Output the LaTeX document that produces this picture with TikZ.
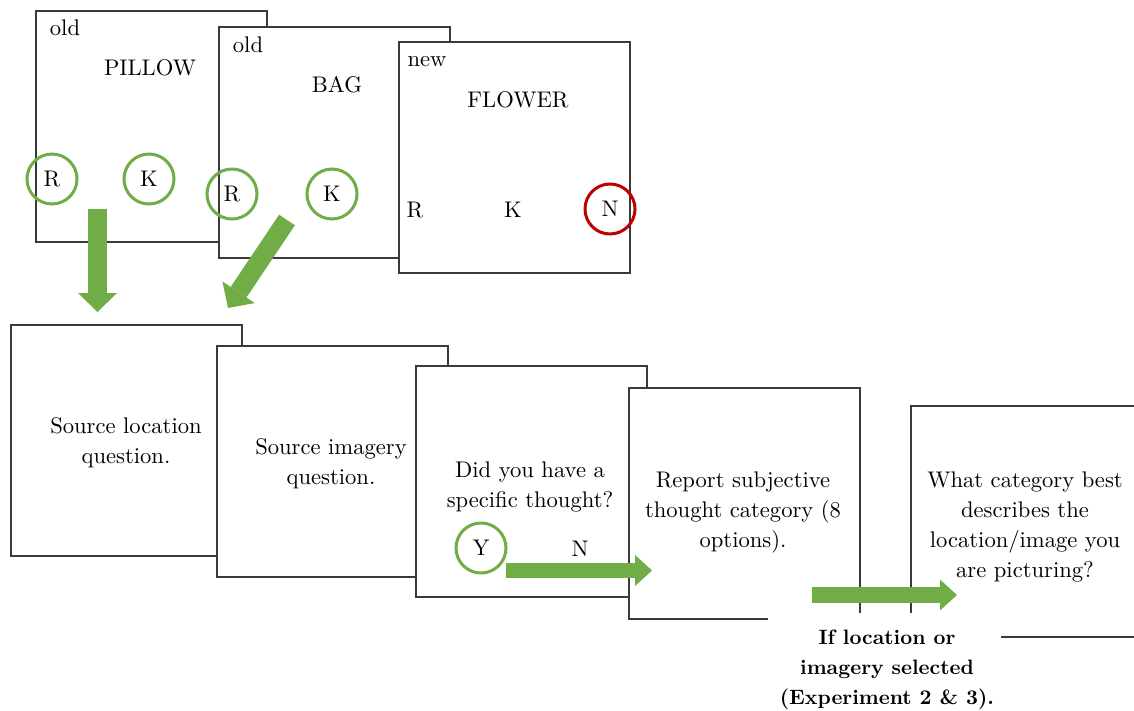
\documentclass[tikz,border=0pt]{standalone}
\usepackage{fontspec}
\setmainfont{lmroman10-regular.otf}[BoldFont=lmroman10-bold.otf]
\usetikzlibrary{arrows.meta}
\definecolor{cardline}{HTML}{3A3A3A}
\definecolor{okgreen}{HTML}{70AD47}
\definecolor{nored}{HTML}{C00000}
\tikzset{
  card/.style={draw=cardline, line width=1.8pt, fill=white, anchor=north west,
    minimum width=231pt, minimum height=231pt, inner sep=0pt},
  txt/.style={font=\rmfamily\fontsize{22.6}{30}\selectfont, inner sep=0pt, align=center},
  note/.style={font=\rmfamily\fontsize{20.8}{30}\selectfont\bfseries, inner sep=0pt, align=center},
  pick/.style={circle, draw=okgreen, line width=3pt, minimum size=50pt, inner sep=0pt},
  nopick/.style={pick, draw=nored},
  flowbig/.style={draw=okgreen, line width=19pt,
    -{Triangle[width=39pt, length=19pt, line width=0pt]}},
  flowsmall/.style={draw=okgreen, line width=15.5pt,
    -{Triangle[width=31pt, length=17pt, line width=0pt]}},
}
\begin{document}
\begin{tikzpicture}[x=1pt, y=-1pt]
\useasboundingbox (0,0) rectangle (1134,710);
\clip (0,0) rectangle (1134,710);

% ---- recognition trials (top row) ----
\node[card] (t1) at (35,10) {};
\node[txt] (t1o) at (65,28) {old};
\node[txt] (t1w) at (150,68) {PILLOW};
\node[pick, txt] (t1r) at (52,179) {R};
\node[pick, txt] (t1k) at (149,179) {K};

\node[card] (t2) at (218,26) {};
\node[txt] (t2o) at (248,45) {old};
\node[txt] (t2w) at (337,85) {BAG};
\node[pick, txt] (t2r) at (232,194) {R};
\node[pick, txt] (t2k) at (332,194) {K};

\node[card] (t3) at (398,41) {};
\node[txt] (t3o) at (427,62) {new};
\node[txt] (t3w) at (518,100) {FLOWER};
\node[txt] (t3r) at (415,210) {R};
\node[txt] (t3k) at (513,210) {K};
\node[nopick, txt] (t3n) at (610,209) {N};

% arrows from the old trials down to the source questions
\coordinate (a1s) at (97.5,209);
\coordinate (a1e) at (97.5,312);
\draw[flowbig] (a1s) -- (a1e);
\coordinate (a2s) at (287,220);
\coordinate (a2e) at (228,308);
\draw[flowbig] (a2s) -- (a2e);

% ---- follow-up questions (bottom row) ----
\node[card] (qa) at (10,324) {};
\node[txt] (qat) at (126,443) {Source location\\question.};

\node[card] (qb) at (216,345) {};
\node[txt] (qbt) at (331,464) {Source imagery\\question.};

\node[card] (qc) at (415,365) {};
\node[txt] (qct) at (530,487) {Did you have a\\specific thought?};
\node[pick, txt] (qcy) at (481,548) {Y};
\node[txt] (qcn) at (580,549) {N};

\node[card] (qd) at (628,387) {};
\node[txt] (qdt) at (743,512) {Report subjective\\thought category (8\\options).};

\coordinate (a3s) at (506,570.5);
\coordinate (a3e) at (652,570.5);
\draw[flowsmall] (a3s) -- (a3e);

\node[card] (qe) at (910,405) {};
\node[txt] (qet) at (1025,527) {What category best\\describes the\\location/image you\\are picturing?};

\coordinate (a4s) at (812,595);
\coordinate (a4e) at (957,595);
\draw[flowsmall] (a4s) -- (a4e);

% condition note, set on a white patch over the card edges
\fill[white] (768,613) rectangle (1001,712);
\node[note] (cond) at (887,670)
  {If location or\\imagery selected\\(Experiment 2 \& 3).};
\end{tikzpicture}
\end{document}
